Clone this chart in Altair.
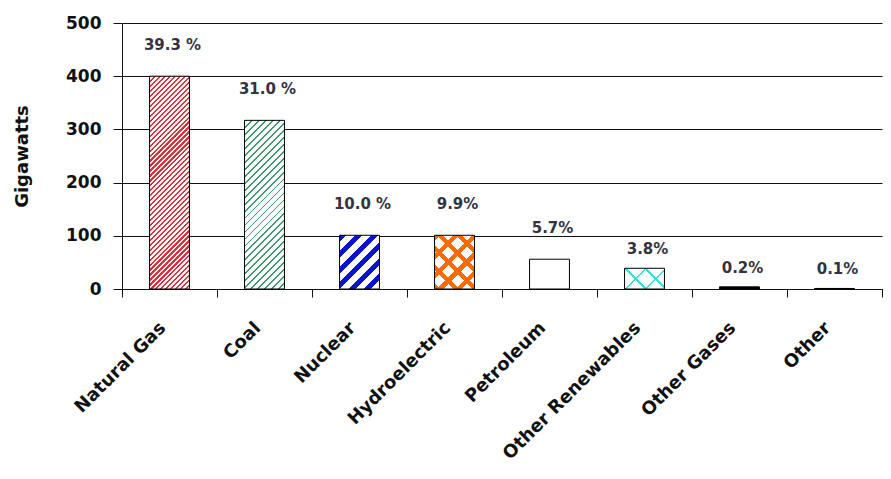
import altair as alt
import pandas as pd

# ---- data ----
categories = ["Natural Gas", "Coal", "Nuclear", "Hydroelectric", "Petroleum",
              "Other Renewables", "Other Gases", "Other"]
gigawatts = [400, 317, 101, 101, 56, 39, 4, 1]
share_labels = ["39.3 %", "31.0 %", "10.0 %", "9.9%", "5.7%", "3.8%", "0.2%", "0.1%"]
y_ticks = [0, 100, 200, 300, 400, 500]

df = pd.DataFrame({"category": categories, "gw": gigawatts, "label": share_labels})

# ---- layout / style ----
PLOT_W = 760
PLOT_H = 266
Y_MAX = 500
BAND_FRAC = 0.42
FONT = "DejaVu Sans"
bar_w = PLOT_W / len(categories) * BAND_FRAC
CLEAR = "rgba(255,255,255,0)"

# hatch styles per category: list of (colour, period px, fill fraction, direction)
patterns = {
    "Natural Gas": [("#e0303a", 5, 0.45, "/")],
    "Coal": [("#3c9a6a", 7, 0.25, "/")],
    "Nuclear": [("#0a14cc", 15, 0.45, "/")],
    "Hydroelectric": [("#ff6a00", 20, 0.33, "/"), ("#ff6a00", 20, 0.33, "\\")],
    "Petroleum": [],
    "Other Renewables": [("#3fdede", 18, 0.12, "/"), ("#3fdede", 18, 0.12, "\\")],
    "Other Gases": "solid",
    "Other": "solid",
}


def stripe_gradient(value, color, period, frac, direction):
    w = bar_w
    h = max(value * PLOT_H / Y_MAX, 1.0)
    b = (w + h) * h / (w * w + h * h)
    a = b * w / h
    n = max(1, int(round((w + h) / period)))
    stops = []
    for i in range(n):
        s0 = i / n
        s1 = (i + frac) / n
        s2 = (i + 1) / n
        stops += [
            alt.GradientStop(offset=s0, color=color),
            alt.GradientStop(offset=s1, color=color),
            alt.GradientStop(offset=s1, color=CLEAR),
            alt.GradientStop(offset=s2, color=CLEAR),
        ]
    if direction == "/":
        x1, y1, x2, y2 = 0, 0, a, b
    else:
        x1, y1, x2, y2 = 0, 1, a, 1 - b
    return alt.LinearGradient(gradient="linear", stops=stops, x1=x1, y1=y1, x2=x2, y2=y2)


x_enc = alt.X(
    "category:N", sort=categories,
    scale=alt.Scale(paddingInner=0, paddingOuter=0),
    axis=alt.Axis(
        title=None, labelAngle=-45, labelAlign="right", labelBaseline="middle",
        labelFont=FONT, labelFontSize=18, labelFontWeight="bold", labelColor="#111111",
        labelPadding=28, labelOffset=-7, labelLimit=0, tickBand="extent", tickSize=8,
        tickColor="#111111", domainColor="#111111", grid=False,
    ),
)
y_enc = alt.Y(
    "gw:Q",
    scale=alt.Scale(domain=[0, Y_MAX], nice=False),
    axis=alt.Axis(
        values=y_ticks, title="Gigawatts", titleFont=FONT, titleFontSize=18,
        titleFontWeight="bold", titleColor="#111111", titleAngle=270,
        titleAlign="center", titleBaseline="middle", titleX=-100, titleY=PLOT_H / 2,
        labelFont=FONT, labelFontSize=17, labelFontWeight="bold", labelColor="#111111",
        labelPadding=12, tickSize=9, tickColor="#111111", domainColor="#111111",
        grid=True, gridColor="#111111", gridWidth=1,
    ),
)

base = alt.Chart(df)
bar_width = alt.RelativeBandSize(band=BAND_FRAC)

layers = [base.mark_bar(width=bar_width, color="white").encode(x=x_enc, y=y_enc)]

for cat, val in zip(categories, gigawatts):
    spec = patterns[cat]
    flt = alt.FieldEqualPredicate(field="category", equal=cat)
    if spec == "solid":
        layers.append(base.mark_bar(width=bar_width, color="#000000")
                      .encode(x=x_enc, y=y_enc).transform_filter(flt))
        continue
    for color, period, frac, direction in spec:
        grad = stripe_gradient(val, color, period, frac, direction)
        layers.append(base.mark_bar(width=bar_width, color=grad)
                      .encode(x=x_enc, y=y_enc).transform_filter(flt))

layers.append(base.mark_bar(width=bar_width, fillOpacity=0, stroke="#000000", strokeWidth=1)
              .encode(x=x_enc, y=y_enc))

text_style = dict(font=FONT, fontSize=15, fontWeight="bold", color="#333344",
                  baseline="middle", dx=3)
layers.append(base.mark_text(dy=-31, **text_style)
              .encode(x=x_enc, y=y_enc, text="label:N")
              .transform_filter(alt.datum.gw >= 50))
layers.append(base.mark_text(dy=-19, **text_style)
              .encode(x=x_enc, y=y_enc, text="label:N")
              .transform_filter(alt.datum.gw < 50))

chart = alt.layer(*layers).properties(
    width=PLOT_W, height=PLOT_H,
    padding={"left": 5, "top": 6, "right": 0, "bottom": 5},
    background="white",
).configure_view(stroke=None)

chart.save("out.html", embed_options={"renderer": "svg", "actions": False})
